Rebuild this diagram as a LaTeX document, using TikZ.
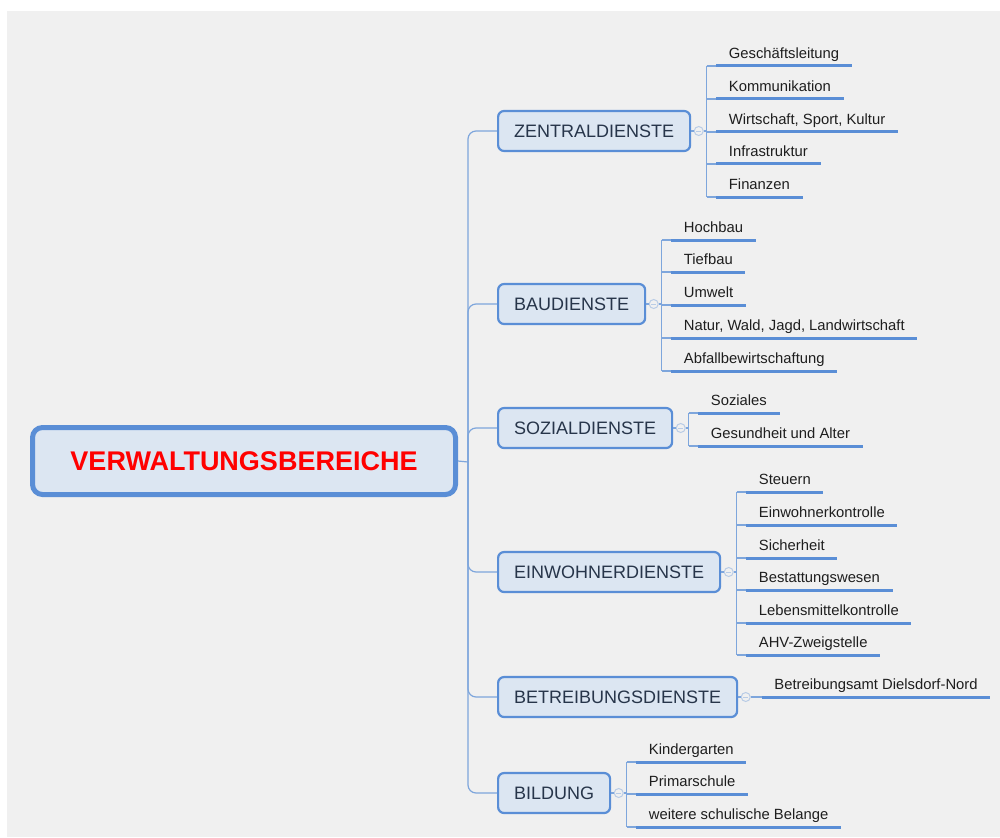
\documentclass[tikz,border=0pt]{standalone}
\usepackage{fontspec}
\setmainfont{Liberation Sans}
\usetikzlibrary{positioning}

\definecolor{canvas}{HTML}{F0F0F0}
\definecolor{boxfill}{HTML}{DCE6F2}
\definecolor{boxline}{HTML}{5A8ED6}
\definecolor{twigline}{HTML}{7EA6DC}
\definecolor{togglering}{HTML}{B9CCE6}
\definecolor{cattext}{HTML}{27354A}
\definecolor{leaftext}{HTML}{1E1E1E}

\begin{document}
\begin{tikzpicture}[x=1pt, y=-1pt,
    rootbox/.style={draw=boxline, line width=5pt, fill=boxfill, rounded corners=10pt,
        minimum width=423pt, minimum height=67pt, text=red,
        font=\fontsize{27}{31}\selectfont\bfseries},
    catbox/.style={draw=boxline, line width=2.2pt, fill=boxfill, rounded corners=6pt,
        anchor=west, inner xsep=16pt, minimum height=40pt, text=cattext,
        font=\fontsize{18}{22}\selectfont},
    toggle/.style={circle, draw=togglering, line width=1pt, fill=canvas,
        minimum size=9pt, inner sep=0pt,
        path picture={\draw[togglering, line width=0.8pt]
            ([xshift=-2.5pt]path picture bounding box.center) --
            ([xshift=2.5pt]path picture bounding box.center);}},
    leaf/.style={anchor=south west, inner xsep=12.5pt, inner ysep=4pt, text depth=3pt,
        text=leaftext, font=\fontsize{14.8}{17}\selectfont},
    leafline/.style={draw=boxline, line width=3pt},
    twig/.style={draw=twigline, line width=1.2pt},
    trunk/.style={twig, rounded corners=8pt}]

    % canvas
    \fill[white] (0,0) rectangle (1000,837);
    \fill[canvas] (7,11) rectangle (1000,837);
    \useasboundingbox (0,0) rectangle (1000,837);

    % root and main branches
    \node[rootbox] (root) at (244,461) {VERWALTUNGSBEREICHE};
    \coordinate (hub) at (468,462);

    \node[catbox] (zd) at (497,131) {ZENTRALDIENSTE};
    \node[catbox] (bd) at (497,304) {BAUDIENSTE};
    \node[catbox] (sd) at (497,428) {SOZIALDIENSTE};
    \node[catbox] (ed) at (497,572) {EINWOHNERDIENSTE};
    \node[catbox] (bt) at (497,697) {BETREIBUNGSDIENSTE};
    \node[catbox] (bi) at (497,793) {BILDUNG};

    \draw[twig] (root.east) -- (hub);
    \foreach \c in {zd,bd,sd,ed,bt,bi} {
        \draw[trunk] (hub) |- (\c.west);
        \node[toggle, right=2.5pt of \c] (\c-tg) {};
        \draw[twig] (\c) -- (\c-tg);
    }
    \foreach \c in {zd,bd,sd,ed,bi} {
        \coordinate[right=3pt of \c-tg] (\c-tk);
        \draw[twig] (\c-tg) -- (\c-tk);
    }

    % Zentraldienste
    \foreach \txt/\y [count=\i] in {Geschäftsleitung/66, Kommunikation/99,
            {Wirtschaft, Sport, Kultur}/132, Infrastruktur/164, Finanzen/197} {
        \node[leaf] (zd\i) at ([xshift=9.5pt]zd-tk |- 0,\y) {\txt};
        \draw[twig] (zd-tk |- zd\i.south) -- (zd\i.south west);
        \draw[leafline] (zd\i.south west) -- (zd\i.south east);
    }
    \draw[twig] (zd-tk |- zd1.south) -- (zd-tk |- zd5.south);

    % Baudienste
    \foreach \txt/\y [count=\i] in {Hochbau/240, Tiefbau/272, Umwelt/305,
            {Natur, Wald, Jagd, Landwirtschaft}/338, Abfallbewirtschaftung/371} {
        \node[leaf] (bd\i) at ([xshift=9.5pt]bd-tk |- 0,\y) {\txt};
        \draw[twig] (bd-tk |- bd\i.south) -- (bd\i.south west);
        \draw[leafline] (bd\i.south west) -- (bd\i.south east);
    }
    \draw[twig] (bd-tk |- bd1.south) -- (bd-tk |- bd5.south);

    % Sozialdienste
    \foreach \txt/\y [count=\i] in {Soziales/413, Gesundheit und Alter/446} {
        \node[leaf] (sd\i) at ([xshift=9.5pt]sd-tk |- 0,\y) {\txt};
        \draw[twig] (sd-tk |- sd\i.south) -- (sd\i.south west);
        \draw[leafline] (sd\i.south west) -- (sd\i.south east);
    }
    \draw[twig] (sd-tk |- sd1.south) -- (sd-tk |- sd2.south);

    % Einwohnerdienste
    \foreach \txt/\y [count=\i] in {Steuern/492, Einwohnerkontrolle/525, Sicherheit/558,
            Bestattungswesen/590, Lebensmittelkontrolle/623, AHV-Zweigstelle/655} {
        \node[leaf] (ed\i) at ([xshift=9.5pt]ed-tk |- 0,\y) {\txt};
        \draw[twig] (ed-tk |- ed\i.south) -- (ed\i.south west);
        \draw[leafline] (ed\i.south west) -- (ed\i.south east);
    }
    \draw[twig] (ed-tk |- ed1.south) -- (ed-tk |- ed6.south);

    % Betreibungsdienste
    \node[leaf] (bt1) at ([xshift=11pt]bt-tg.east) {Betreibungsamt Dielsdorf-Nord};
    \draw[twig] (bt-tg) -- (bt1.south west);
    \draw[leafline] (bt1.south west) -- (bt1.south east);

    % Bildung
    \foreach \txt/\y [count=\i] in {Kindergarten/762, Primarschule/794,
            weitere schulische Belange/827} {
        \node[leaf] (bi\i) at ([xshift=9.5pt]bi-tk |- 0,\y) {\txt};
        \draw[twig] (bi-tk |- bi\i.south) -- (bi\i.south west);
        \draw[leafline] (bi\i.south west) -- (bi\i.south east);
    }
    \draw[twig] (bi-tk |- bi1.south) -- (bi-tk |- bi3.south);
\end{tikzpicture}
\end{document}
